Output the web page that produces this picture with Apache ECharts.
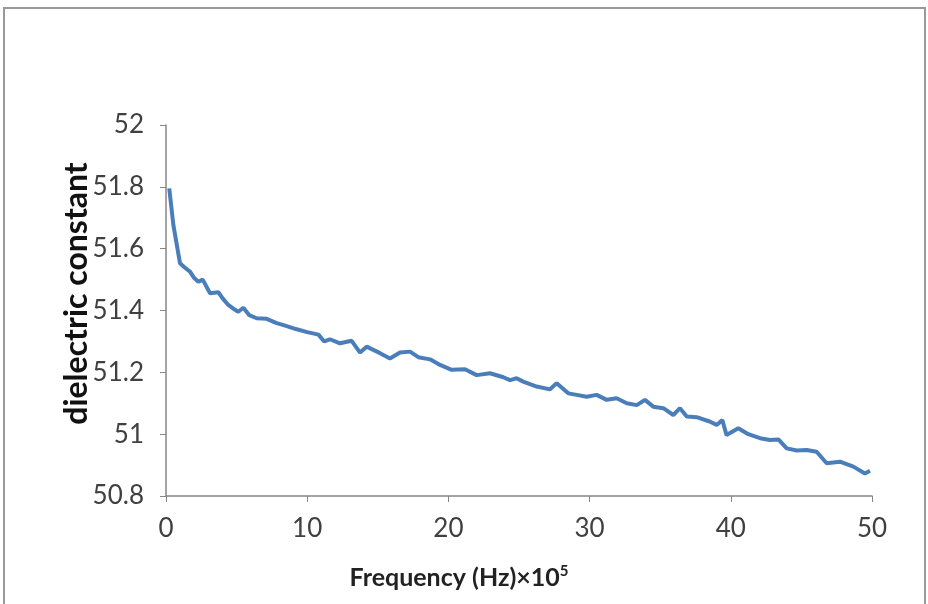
<!DOCTYPE html>
<html>
<head>
<meta charset="utf-8">
<script src="https://cdn.jsdelivr.net/npm/echarts@6/dist/echarts.min.js"></script>
<style>html,body{margin:0;padding:0;background:#fff;}#c{width:928px;height:604px;}</style>
</head>
<body>
<div id="c"></div>
<script>
var frequency = [0.23,0.52,0.99,1.30,1.70,2.00,2.29,2.60,3.12,3.71,4.00,4.41,4.80,5.12,5.48,5.90,6.42,7.13,7.84,8.50,9.20,10.0,10.8,11.2,11.61,12.32,13.15,13.74,14.21,15.16,15.86,16.57,17.28,17.87,18.70,19.41,20.23,21.18,22.0,22.95,23.89,24.36,24.83,25.3,26.25,27.2,27.67,28.49,29.09,29.79,30.5,31.21,31.92,32.63,33.34,33.92,34.51,35.22,35.93,36.4,36.88,37.58,38.5,39.0,39.4,39.7,40.53,41.24,42.07,42.78,43.37,43.96,44.67,45.37,46.08,46.79,47.73,48.68,49.5,49.86];
var dielectric = [51.795,51.677,51.553,51.540,51.526,51.505,51.493,51.500,51.456,51.459,51.440,51.418,51.405,51.396,51.409,51.385,51.375,51.373,51.359,51.350,51.340,51.330,51.322,51.300,51.307,51.294,51.302,51.264,51.283,51.262,51.245,51.264,51.267,51.249,51.242,51.224,51.208,51.210,51.191,51.197,51.184,51.175,51.181,51.170,51.154,51.145,51.165,51.132,51.127,51.121,51.127,51.111,51.116,51.100,51.094,51.111,51.089,51.084,51.062,51.084,51.057,51.055,51.041,51.030,51.046,50.997,51.019,51.000,50.987,50.981,50.983,50.954,50.947,50.949,50.943,50.906,50.911,50.895,50.873,50.882];
var xTicks = {min: 0, max: 50, interval: 10};
var yTicks = {min: 50.8, max: 52, interval: 0.2};
var xTitle = 'Frequency (Hz)×10';
var xTitleSup = '5';
var yTitle = 'dielectric constant';

var chart = echarts.init(document.getElementById('c'));
var pts = frequency.map(function(f, i){ return [f, dielectric[i]]; });
var axisCol = '#868686';
var font = 'Lato, "Open Sans", sans-serif';
chart.setOption({
  animation: false,
  backgroundColor: '#fff',
  graphic: [{
    type: 'rect', shape: {x: 4, y: 8, width: 921, height: 620},
    style: {fill: 'none', stroke: '#9a9a9a', lineWidth: 2}, silent: true
  }],
  grid: {left: 166, right: 56, top: 125, bottom: 108},
  xAxis: {
    type: 'value', min: xTicks.min, max: xTicks.max, interval: xTicks.interval,
    name: xTitle + '{s|' + xTitleSup + '}',
    nameLocation: 'middle', nameGap: 68,
    nameTextStyle: {fontFamily: font, fontWeight: 'bold', fontSize: 25, color: '#222',
      padding: [0, 120, 0, 0],
      rich: {s: {fontFamily: font, fontWeight: 'bold', fontSize: 15, color: '#222', verticalAlign: 'top', padding: [0,0,12,0]}}},
    axisLine: {show: true, lineStyle: {color: axisCol, width: 1.5}},
    axisTick: {show: true, inside: false, length: 6, lineStyle: {color: axisCol}},
    axisLabel: {fontFamily: font, fontSize: 26, color: '#404040', margin: 20},
    splitLine: {show: false}
  },
  yAxis: {
    type: 'value', min: yTicks.min, max: yTicks.max, interval: yTicks.interval,
    name: yTitle, nameLocation: 'middle', nameGap: 73, nameRotate: 90,
    nameMoveOverlap: false,
    nameTextStyle: {fontFamily: font, fontWeight: 'bold', fontSize: 32, color: '#111', padding: [0, 0, 0, 34]},
    axisLine: {show: true, lineStyle: {color: axisCol, width: 1.5}},
    axisTick: {show: true, inside: false, length: 6, lineStyle: {color: axisCol}},
    axisLabel: {fontFamily: font, fontSize: 26, color: '#404040', margin: 22},
    splitLine: {show: false}
  },
  series: [{
    type: 'line', data: pts, showSymbol: false, symbol: 'none', smooth: false,
    lineStyle: {color: '#4A7EBB', width: 4}
  }]
});
</script>
</body>
</html>
